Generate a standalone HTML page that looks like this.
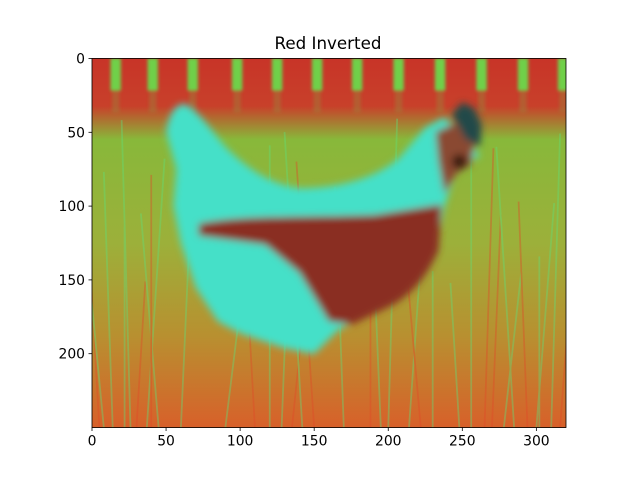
<!DOCTYPE html>
<html><head><meta charset="utf-8"><style>
body{margin:0;background:#fff;}
svg text{font-family:"DejaVu Sans","Liberation Sans",sans-serif;font-size:13.9px;fill:#000}
</style></head><body>
<svg id="fig" width="640" height="480" viewBox="0 0 640 480">
<defs>
<filter id="blur" x="-5%" y="-5%" width="110%" height="110%"><feGaussianBlur stdDeviation="2.5"/></filter>
<filter id="blur2"><feGaussianBlur stdDeviation="1"/></filter>
<linearGradient id="grass" x1="0" y1="0" x2="0" y2="1">
<stop offset="0" stop-color="#c83428"/><stop offset="0.13" stop-color="#c8402a"/>
<stop offset="0.22" stop-color="#88b83a"/><stop offset="0.5" stop-color="#9cb03a"/>
<stop offset="0.75" stop-color="#b89030"/><stop offset="1" stop-color="#d8602a"/>
</linearGradient>
<clipPath id="clip"><rect x="0" y="0" width="320" height="250"/></clipPath>
</defs>
<text x="328" y="49" text-anchor="middle" style="font-size:16.7px">Red Inverted</text>
<g id="img" transform="translate(92,58) scale(1.48125,1.48)" clip-path="url(#clip)">
<rect x="0" y="0" width="320" height="250" fill="url(#grass)"/>
<g id="slats" filter="url(#blur2)"></g>
<g id="grassblades" opacity="0.4"></g>
<g filter="url(#blur)">
<path fill="#45e0c8" d="M63,31 C72,36 80,48 90,60 C105,75 120,85 140,88 C165,88 190,82 207,68 L225,47 L238,40 L252,55 L262,66 L246,75 L238,100 L234,120 C230,135 220,150 203,158 L180,175 L165,185 L150,200 L130,196 L100,186 L85,178 L70,155 L60,125 L55,100 L57,75 L50,50 C52,38 56,31 63,31 Z"/>
<path fill="#8a2d22" d="M72,112 C100,106 140,108 191,106 L236,99 L234,130 C225,150 215,160 203,167 L176,180 L160,178 L140,145 L117,126 L72,120 Z"/>
<path fill="#8a4a30" d="M232,50 L245,44 L258,58 L256,72 L246,78 L238,92 L234,70 Z"/>
<path fill="#204848" d="M243,38 L250,30 L258,34 L263,45 L262,60 L252,55 Z"/>
<ellipse cx="248" cy="70" rx="5" ry="5" fill="#3a1a10"/>
</g>
</g>
<rect x="92" y="58.5" width="474" height="369" fill="none" stroke="#000" stroke-width="0.8"/>
<g id="axes"></g>
<script>
const xTicks=[0,50,100,150,200,250,300];
const yTicks=[0,50,100,150,200];
const slatX=[16,41,68,98,125,152,179,207,235,263,291,318];
const xMin=0,xMax=320,yMin=0,yMax=250;
const L=92,R=566,T=58.5,B=427.5;
function xs(v){return L+(v-xMin)/(xMax-xMin)*(R-L);}
function ys(v){return T+(v-yMin)/(yMax-yMin)*(B-T);}
const NS="http://www.w3.org/2000/svg";
const ax=document.getElementById('axes');
function mk(t,a,p){const e=document.createElementNS(NS,t);for(const k in a)e.setAttribute(k,a[k]);p.appendChild(e);return e;}
xTicks.forEach(v=>{
 const l=mk('line',{x1:xs(v),x2:xs(v),y1:B,y2:B+3.5,stroke:'#000','stroke-width':0.8},ax);
 
 
 const t=mk('text',{x:xs(v),y:B+18,'text-anchor':'middle'},ax);t.textContent=v;
 
 
});
yTicks.forEach(v=>{
 const l=mk('line',{x1:L-3.5,x2:L,y1:ys(v),y2:ys(v),stroke:'#000','stroke-width':0.8},ax);
 
 
 const t=mk('text',{x:L-7,y:ys(v)+5,'text-anchor':'end'},ax);t.textContent=v;
 
 
});
const sg=document.getElementById('slats');
slatX.forEach(v=>{
 const r=mk('rect',{x:v-3.5,y:0,width:7,height:22,fill:'#70d048'},sg);
 
 
 const r2=mk('rect',{x:v-2.5,y:22,width:5,height:15,fill:'#a07a38',opacity:0.5},sg);
 
 
});
const gg=document.getElementById('grassblades');
const bx=[5,14,22,30,37,45,110,120,128,135,142,170,188,200,214,222,248,256,270,278,285,294,302,310,316,8,26,40,60,90,150,195,230,265,300];
bx.forEach((v,i)=>{
 const y0=250, y1=40+((i*37)%120);
 const l=mk('line',{x1:v,y1:y0,x2:v+((i%5)-2)*6,y2:y1,stroke:i%3?'#5fe07a':'#e04a28','stroke-width':1.2},gg);
 
 
});
</script>
</svg>
</body></html>
